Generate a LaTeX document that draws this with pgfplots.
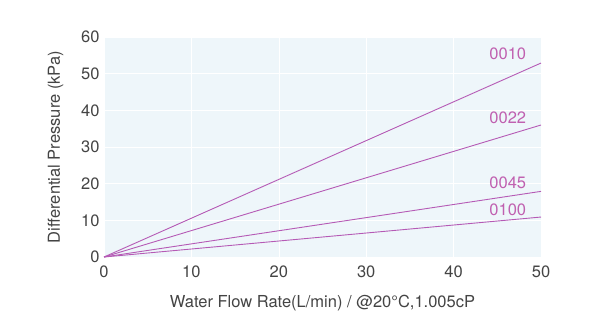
\documentclass[border=0pt]{standalone}
\usepackage{pgfplots}
\pgfplotsset{compat=1.18}
\usepackage{fontspec}
\setmainfont{TeX Gyre Heros}
\definecolor{bgc}{HTML}{EEF6FA}
\definecolor{linec}{HTML}{B55AB5}
\definecolor{labc}{HTML}{C060B0}
\definecolor{txt}{HTML}{444444}
\begin{document}
\begin{tikzpicture}
\path[use as bounding box] (0,0) rectangle (600bp,333bp);
\begin{axis}[
  at={(104bp,76bp)}, anchor=south west,
  scale only axis, width=437bp, height=220bp,
  xmin=0, xmax=50, ymin=0, ymax=60,
  xtick={0,10,...,50}, ytick={0,10,...,60},
  axis line style={draw=none},
  tick style={draw=none},
  axis background/.style={fill=bgc},
  grid=major, grid style={white, line width=0.5pt},
  /pgf/number format/assume math mode=true,
  ticklabel style={font=\fontsize{16.5bp}{18bp}\selectfont, text=txt},
  xticklabel style={yshift=-5bp},
  yticklabel style={xshift=-1bp},
  xlabel={Water Flow Rate(L/min) / @20°C,1.005cP},
  ylabel={Differential Pressure (kPa)},
  label style={font=\fontsize{16.5bp}{18bp}\selectfont, text=txt},
  xlabel style={yshift=-11bp},
  ylabel style={yshift=11bp},
  clip=false,
]
\addplot[linec, line width=0.9pt] coordinates {(0,0) (50,52.9)};
\addplot[linec, line width=0.9pt] coordinates {(0,0) (50,36.0)};
\addplot[linec, line width=0.9pt] coordinates {(0,0) (50,17.9)};
\addplot[linec, line width=0.9pt] coordinates {(0,0) (50,10.9)};
\begin{scope}[every node/.style={font=\fontsize{16.5bp}{18bp}\selectfont, text=labc, anchor=base}]
\node at (axis cs:46.2,53.8) {0010};
\node at (axis cs:46.2,36.5) {0022};
\node at (axis cs:46.2,18.6) {0045};
\node at (axis cs:46.2,11.3) {0100};
\end{scope}
\end{axis}
\end{tikzpicture}
\end{document}
